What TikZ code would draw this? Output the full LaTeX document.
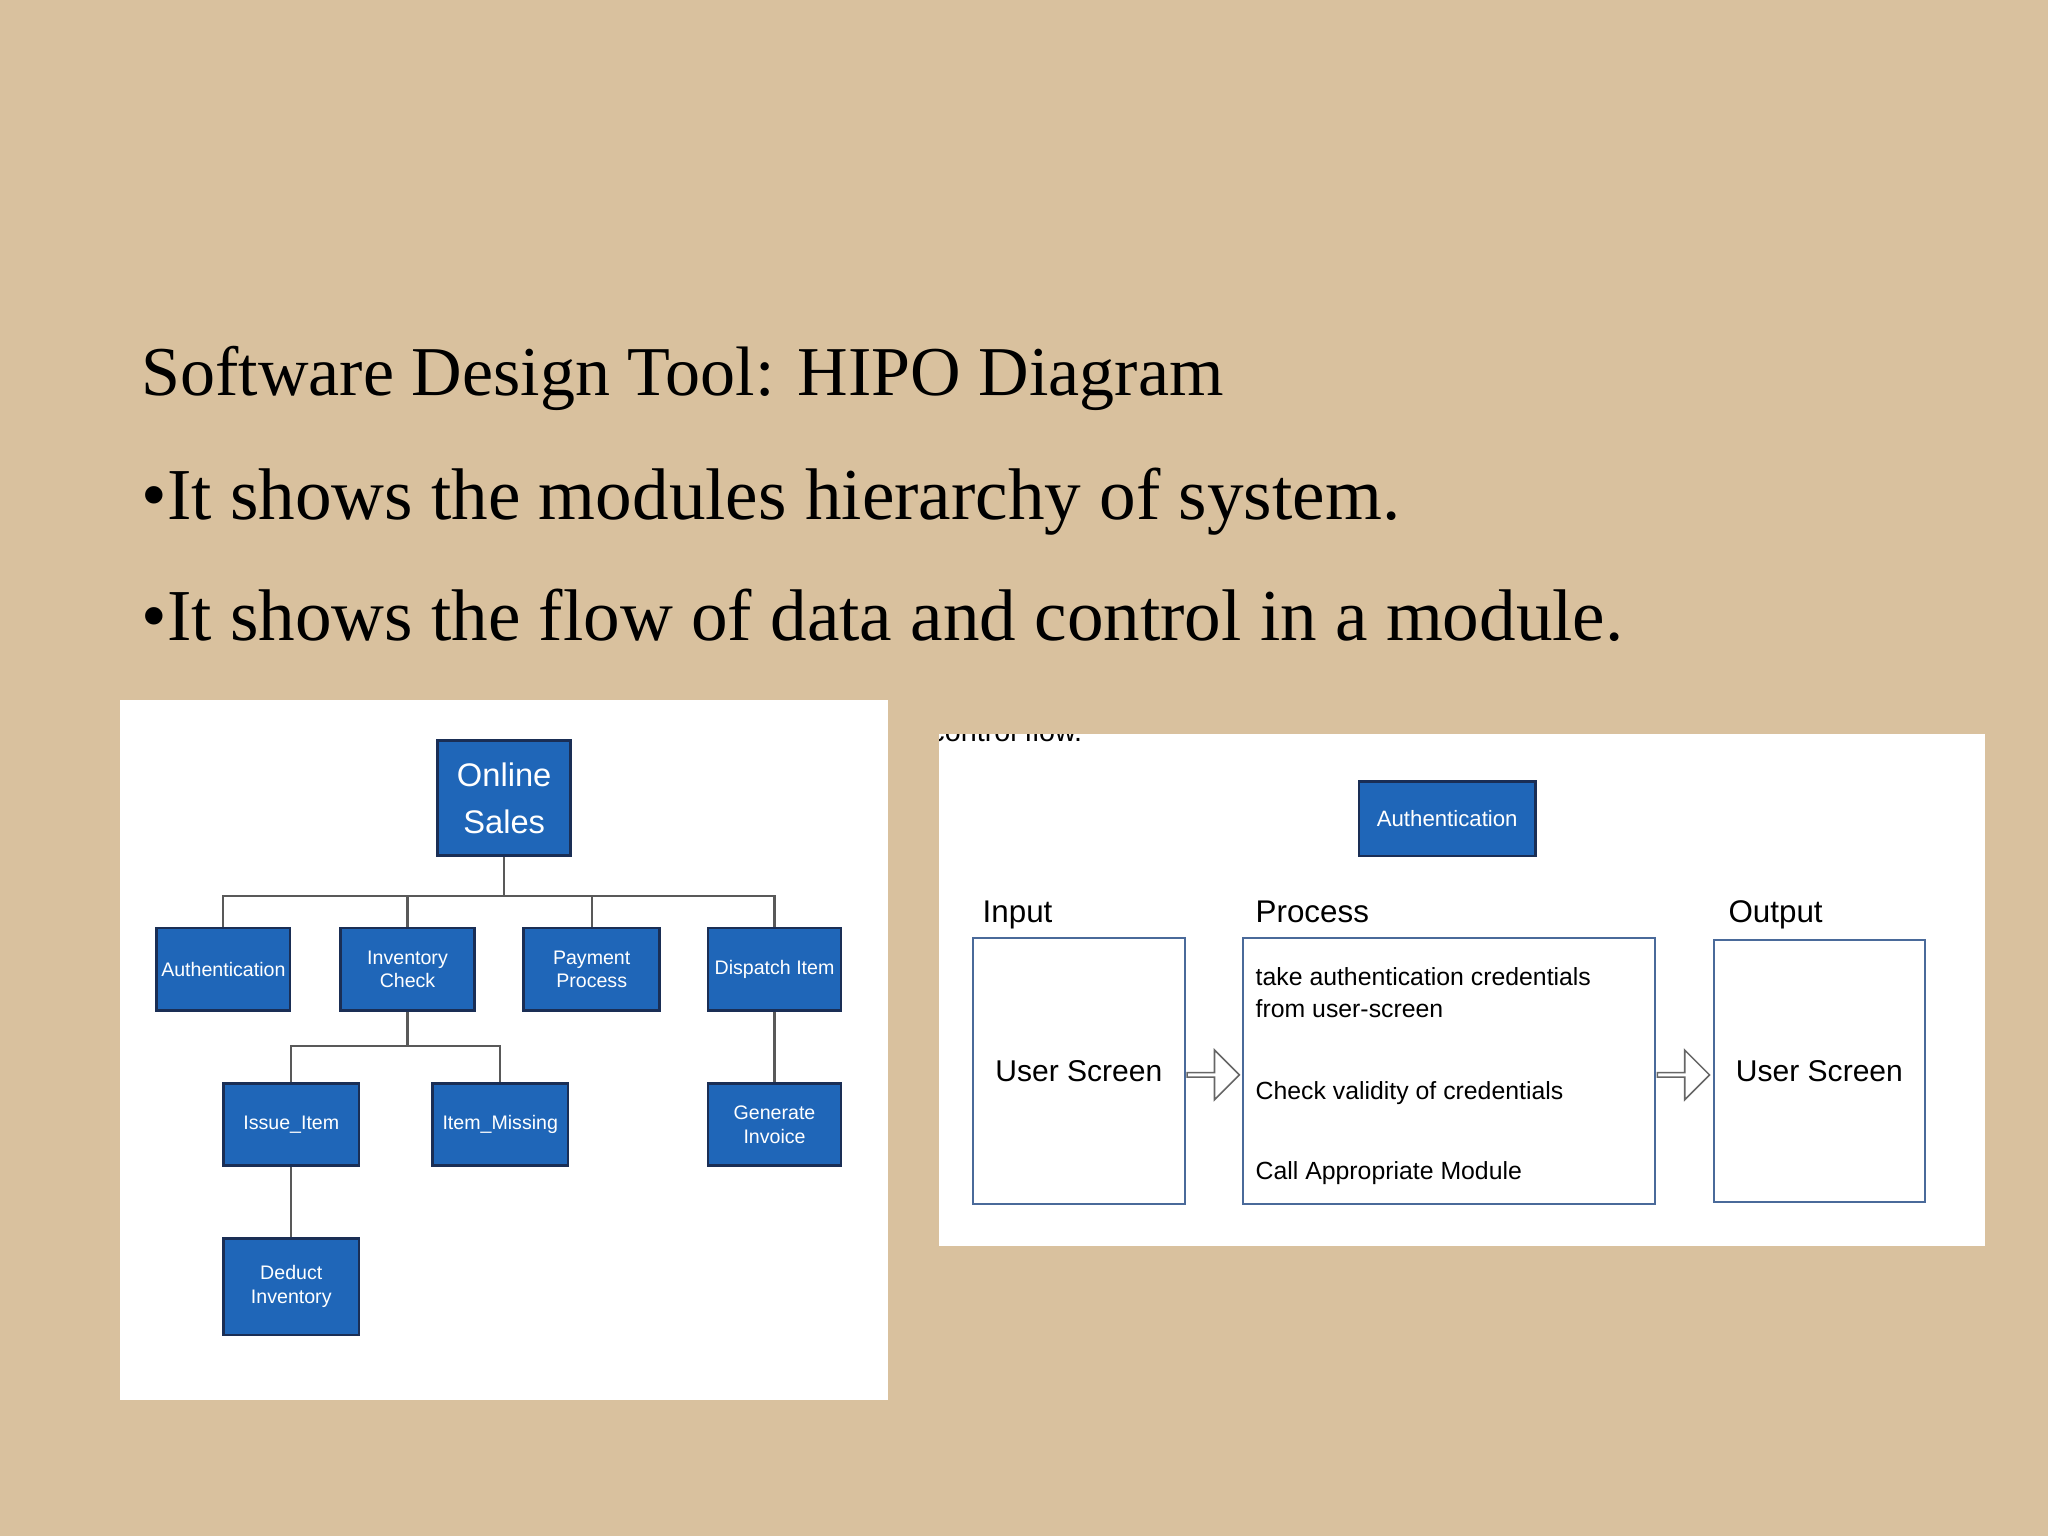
\documentclass[tikz,border=0pt]{standalone}
\usepackage{fontspec}
\setmainfont{Liberation Serif}
\newfontfamily\dsans{Liberation Sans}
\usetikzlibrary{shapes.arrows}
\definecolor{bg}{HTML}{D9C19E}
\definecolor{mblue}{HTML}{1F66B8}
\definecolor{mnavy}{HTML}{1A2E55}
\definecolor{pbord}{HTML}{4A6A9A}
\begin{document}
\begin{tikzpicture}[x=0.5pt,y=-0.5pt,
  mod/.style={draw=mnavy,line width=1pt,fill=mblue,text=white,font=\dsans\fontsize{7.5}{9}\selectfont,align=center,inner sep=0pt},
  conn/.style={draw=gray!70!black,line width=0.8pt},
  pbox/.style={draw=pbord,line width=0.8pt,fill=white},
  harrow/.style={single arrow,draw=gray!80!black,fill=white,minimum height=20pt,minimum width=19pt,single arrow head extend=3pt,inner sep=0pt,line width=0.6pt}]
\fill[bg] (0,0) rectangle (1568,1176);
\useasboundingbox (0,0) rectangle (1568,1176);
\node[anchor=base west,inner sep=0pt,font=\fontsize{26.8}{30}\selectfont] (t1) at (108,303) {Software Design Tool: HIPO Diagram};
\node[anchor=base west,inner sep=0pt,font=\fontsize{28}{30}\selectfont] (t2) at (108,398) {•It shows the modules hierarchy of system.};
\node[anchor=base west,inner sep=0pt,font=\fontsize{28}{30}\selectfont] (t3) at (108,490) {•It shows the flow of data and control in a module.};
% left panel
\fill[white] (92,536) rectangle (680,1072);
\node[mod,minimum width=51pt,minimum height=44pt,font=\dsans\fontsize{12.5}{18}\selectfont] (os) at (386,611) {Online\\Sales};
\node[mod,minimum width=51pt,minimum height=31.5pt] (au) at (171,742) {Authentication};
\node[mod,minimum width=51.5pt,minimum height=31.5pt] (ic) at (312,742) {Inventory\\Check};
\node[mod,minimum width=52pt,minimum height=31.5pt] (pp) at (453,742) {Payment\\Process};
\node[mod,minimum width=51pt,minimum height=31.5pt] (di) at (593,742) {Dispatch Item};
\node[mod,minimum width=52pt,minimum height=31.5pt] (ii) at (223,861) {Issue\_Item};
\node[mod,minimum width=52pt,minimum height=31.5pt] (im) at (383,861) {Item\_Missing};
\node[mod,minimum width=51pt,minimum height=31.5pt] (gi) at (593,861) {Generate\\Invoice};
\node[mod,minimum width=52pt,minimum height=37pt] (dd) at (223,985) {Deduct\\Inventory};
\draw[conn] (os.south) -- ++(0,30) coordinate (h1);
\draw[conn] (au.north) |- (h1) -| (di.north);
\draw[conn] (ic.north) -- (ic.north |- h1);
\draw[conn] (pp.north) -- (pp.north |- h1);
\draw[conn] (ic.south) -- ++(0,26) coordinate (h2);
\draw[conn] (ii.north) |- (h2) -| (im.north);
\draw[conn] (di) -- (gi);
\draw[conn] (ii) -- (dd);
% right panel
\fill[white] (719,562) rectangle (1520,954);
\begin{scope}
\clip (719,562) rectangle (1520,954);
\node[anchor=base west,font=\dsans\fontsize{11}{13}\selectfont,inner sep=0pt] (cf) at (712,568) {control flow.};
\end{scope}
\node[mod,minimum width=67.5pt,minimum height=28.5pt,font=\dsans\fontsize{8.5}{10}\selectfont] (auth) at (1108,627) {Authentication};
\node[anchor=base west,font=\dsans\fontsize{12}{14}\selectfont,inner sep=0pt] (lin) at (752,706) {Input};
\node[anchor=base west,font=\dsans\fontsize{12}{14}\selectfont,inner sep=0pt] (lpr) at (961,706) {Process};
\node[anchor=base west,font=\dsans\fontsize{12}{14}\selectfont,inner sep=0pt] (lout) at (1323,706) {Output};
\node[pbox,minimum width=81pt,minimum height=102pt,inner sep=0pt,font=\dsans\fontsize{11.5}{14}\selectfont] (inb) at (826,820) {User Screen};
\node[pbox,minimum width=157.5pt,minimum height=102pt,inner sep=0pt] (prb) at (1109.5,820) {};
\node[pbox,minimum width=81pt,minimum height=100pt,inner sep=0pt,font=\dsans\fontsize{11.5}{14}\selectfont] (outb) at (1393,820) {User Screen};
\node[anchor=north west,align=left,font=\dsans\fontsize{9.5}{12.5}\selectfont,inner sep=0pt] (p1) at (961,740) {take authentication credentials\\from user-screen};
\node[anchor=base west,font=\dsans\fontsize{9.5}{12}\selectfont,inner sep=0pt] (p2) at (961,842) {Check validity of credentials};
\node[anchor=base west,font=\dsans\fontsize{9.5}{12}\selectfont,inner sep=0pt] (p3) at (961,903) {Call Appropriate Module};
\node[harrow] (a1) at (928,823) {};
\node[harrow] (a2) at (1288,823) {};
\end{tikzpicture}
\end{document}
